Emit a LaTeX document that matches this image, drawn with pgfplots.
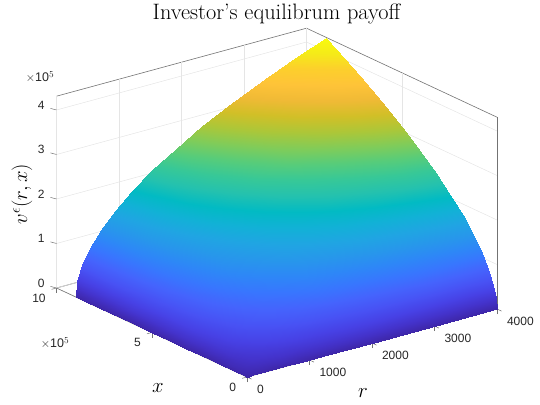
\documentclass[border=0pt]{standalone}
\usepackage{fontspec}
\usepackage{pgfplots}
\pgfplotsset{compat=1.18}
\newfontfamily\hel{Liberation Sans}
\definecolor{axisgray}{gray}{0.45}
\definecolor{labeldark}{gray}{0.15}
\pgfplotsset{
  colormap={parula}{
    rgb=(0.2422,0.1504,0.6603) rgb=(0.2647,0.1978,0.7952) rgb=(0.2783,0.2559,0.8991)
    rgb=(0.2810,0.3228,0.9579) rgb=(0.2699,0.3892,0.9906) rgb=(0.2206,0.4603,0.9973)
    rgb=(0.1786,0.5289,0.9682) rgb=(0.1540,0.5902,0.9218) rgb=(0.1248,0.6459,0.8883)
    rgb=(0.0689,0.6948,0.8394) rgb=(0.0067,0.7312,0.7660) rgb=(0.1408,0.7584,0.6842)
    rgb=(0.2161,0.7843,0.5923) rgb=(0.3406,0.8008,0.4789) rgb=(0.5044,0.7993,0.3480)
    rgb=(0.6720,0.7793,0.2227) rgb=(0.8203,0.7498,0.1535) rgb=(0.9393,0.7288,0.2100)
    rgb=(0.9970,0.7659,0.2199) rgb=(0.9892,0.8136,0.1711) rgb=(0.9598,0.9218,0.0948)
    rgb=(0.9763,0.9831,0.0538)
  }
}
\begin{document}
\begin{tikzpicture}
\useasboundingbox (0,0) rectangle (540pt,404pt);
\begin{axis}[
    at={(247pt,27pt)}, anchor=origin,
    x={(0.0625pt,0.017pt)}, y={(-19.05pt,8.9pt)}, z={(0pt,44.5pt)},
    xmin=0, xmax=4000, ymin=0, ymax=10, zmin=0, zmax=4.31,
    xtick={0,1000,2000,3000,4000}, ytick={0,5,10}, ztick={0,1,2,3,4},
    scaled ticks=false,
    /pgf/number format/assume math mode=true,
    /pgf/number format/1000 sep={},
    tick label style={font=\hel\fontsize{12}{12}\selectfont, text=labeldark},
    xticklabel style={anchor=west, xshift=2pt, yshift=-10.5pt},
    yticklabel style={anchor=east, xshift=-2.5pt, yshift=-9pt},
    zticklabel style={anchor=east, xshift=-4pt, yshift=3pt},
    xtick pos=lower, ytick pos=lower, ztick pos=lower,
    grid=major, major grid style={gray!20, line width=0.5pt},
    tick align=outside, major tick length=5pt,
    axis line style={axisgray, line width=0.6pt},
    tick style={axisgray, line width=0.5pt},
    ztick style={draw=none},
    colormap name=parula,
    clip=false,
  ]
\addplot3[surf, shader=interp] coordinates {
(0,0,0) (0,0.05,0) (0,0.2,0) (0,0.45,0) (0,0.8,0) (0,1.25,0) (0,1.8,0) (0,2.45,0) (0,3.2,0) (0,4.05,0) (0,5,0) (0,6.05,0) (0,7.2,0) (0,8.45,0) (0,9,0)

(25,0,0) (25,0.05,.019) (25,0.2,.040) (25,0.45,.064) (25,0.8,.088) (25,1.25,.113) (25,1.8,.138) (25,2.45,.164) (25,3.2,.191) (25,4.05,.217) (25,5,.245) (25,6.05,.272) (25,7.2,.300) (25,8.45,.328) (25,9,.340)

(100,0,0) (100,0.05,.037) (100,0.2,.081) (100,0.45,.127) (100,0.8,.175) (100,1.25,.225) (100,1.8,.276) (100,2.45,.328) (100,3.2,.381) (100,4.05,.435) (100,5,.489) (100,6.05,.544) (100,7.2,.600) (100,8.45,.656) (100,9,.680)

(225,0,0) (225,0.05,.056) (225,0.2,.121) (225,0.45,.191) (225,0.8,.263) (225,1.25,.338) (225,1.8,.414) (225,2.45,.492) (225,3.2,.572) (225,4.05,.652) (225,5,.734) (225,6.05,.817) (225,7.2,.900) (225,8.45,.985) (225,9,1.020)

(400,0,0) (400,0.05,.074) (400,0.2,.161) (400,0.45,.254) (400,0.8,.351) (400,1.25,.450) (400,1.8,.552) (400,2.45,.656) (400,3.2,.762) (400,4.05,.870) (400,5,.979) (400,6.05,1.089) (400,7.2,1.200) (400,8.45,1.313) (400,9,1.360)

(625,0,0) (625,0.05,.093) (625,0.2,.202) (625,0.45,.318) (625,0.8,.438) (625,1.25,.563) (625,1.8,.690) (625,2.45,.820) (625,3.2,.953) (625,4.05,1.087) (625,5,1.223) (625,6.05,1.361) (625,7.2,1.500) (625,8.45,1.641) (625,9,1.700)

(900,0,0) (900,0.05,.111) (900,0.2,.242) (900,0.45,.381) (900,0.8,.526) (900,1.25,.675) (900,1.8,.828) (900,2.45,.984) (900,3.2,1.143) (900,4.05,1.304) (900,5,1.467) (900,6.05,1.632) (900,7.2,1.799) (900,8.45,1.968) (900,9,2.039)

(1225,0,0) (1225,0.05,.130) (1225,0.2,.282) (1225,0.45,.445) (1225,0.8,.614) (1225,1.25,.788) (1225,1.8,.967) (1225,2.45,1.148) (1225,3.2,1.334) (1225,4.05,1.522) (1225,5,1.712) (1225,6.05,1.905) (1225,7.2,2.100) (1225,8.45,2.297) (1225,9,2.380)

(1600,0,0) (1600,0.05,.149) (1600,0.2,.323) (1600,0.45,.508) (1600,0.8,.701) (1600,1.25,.900) (1600,1.8,1.105) (1600,2.45,1.312) (1600,3.2,1.524) (1600,4.05,1.739) (1600,5,1.957) (1600,6.05,2.178) (1600,7.2,2.400) (1600,8.45,2.626) (1600,9,2.720)

(2025,0,0) (2025,0.05,.167) (2025,0.2,.363) (2025,0.45,.571) (2025,0.8,.789) (2025,1.25,1.013) (2025,1.8,1.242) (2025,2.45,1.476) (2025,3.2,1.714) (2025,4.05,1.956) (2025,5,2.201) (2025,6.05,2.449) (2025,7.2,2.700) (2025,8.45,2.953) (2025,9,3.059)

(2500,0,0) (2500,0.05,.186) (2500,0.2,.403) (2500,0.45,.635) (2500,0.8,.877) (2500,1.25,1.125) (2500,1.8,1.381) (2500,2.45,1.641) (2500,3.2,1.905) (2500,4.05,2.174) (2500,5,2.446) (2500,6.05,2.722) (2500,7.2,3.001) (2500,8.45,3.282) (2500,9,3.400)

(3025,0,0) (3025,0.05,.204) (3025,0.2,.443) (3025,0.45,.698) (3025,0.8,.964) (3025,1.25,1.238) (3025,1.8,1.518) (3025,2.45,1.804) (3025,3.2,2.095) (3025,4.05,2.391) (3025,5,2.690) (3025,6.05,2.993) (3025,7.2,3.300) (3025,8.45,3.609) (3025,9,3.739)

(3600,0,0) (3600,0.05,.223) (3600,0.2,.484) (3600,0.45,.762) (3600,0.8,1.052) (3600,1.25,1.350) (3600,1.8,1.656) (3600,2.45,1.968) (3600,3.2,2.286) (3600,4.05,2.608) (3600,5,2.935) (3600,6.05,3.266) (3600,7.2,3.600) (3600,8.45,3.937) (3600,9,4.079)

(4000,0,0) (4000,0.05,.235) (4000,0.2,.510) (4000,0.45,.803) (4000,0.8,1.109) (4000,1.25,1.423) (4000,1.8,1.746) (4000,2.45,2.075) (4000,3.2,2.410) (4000,4.05,2.749) (4000,5,3.094) (4000,6.05,3.443) (4000,7.2,3.795) (4000,8.45,4.151) (4000,9,4.300)
};
\end{axis}
% z ticks only on the left edge
\foreach \k in {0,...,4}
  \draw[axisgray, line width=0.5pt] (56.5pt,116pt+44.5pt*\k) -- ++(-6pt,1.6pt);
\node at (276.5pt,390pt) {\fontsize{22.3}{22.3}\selectfont Investor's equilibrum payoff};
\node[text=labeldark] at (40pt,327pt) {\hel\fontsize{12.5}{12.5}\selectfont $\times$10$^5$};
\node[text=labeldark] at (55pt,61pt) {\hel\fontsize{12.5}{12.5}\selectfont $\times$10$^5$};
\node[rotate=90] at (22pt,210pt) {\fontsize{21}{21}\selectfont $v^{\epsilon}(r,x)$};
\node at (158pt,16pt) {\fontsize{21}{21}\selectfont $x$};
\node at (363pt,11pt) {\fontsize{21}{21}\selectfont $r$};
\end{tikzpicture}
\end{document}
